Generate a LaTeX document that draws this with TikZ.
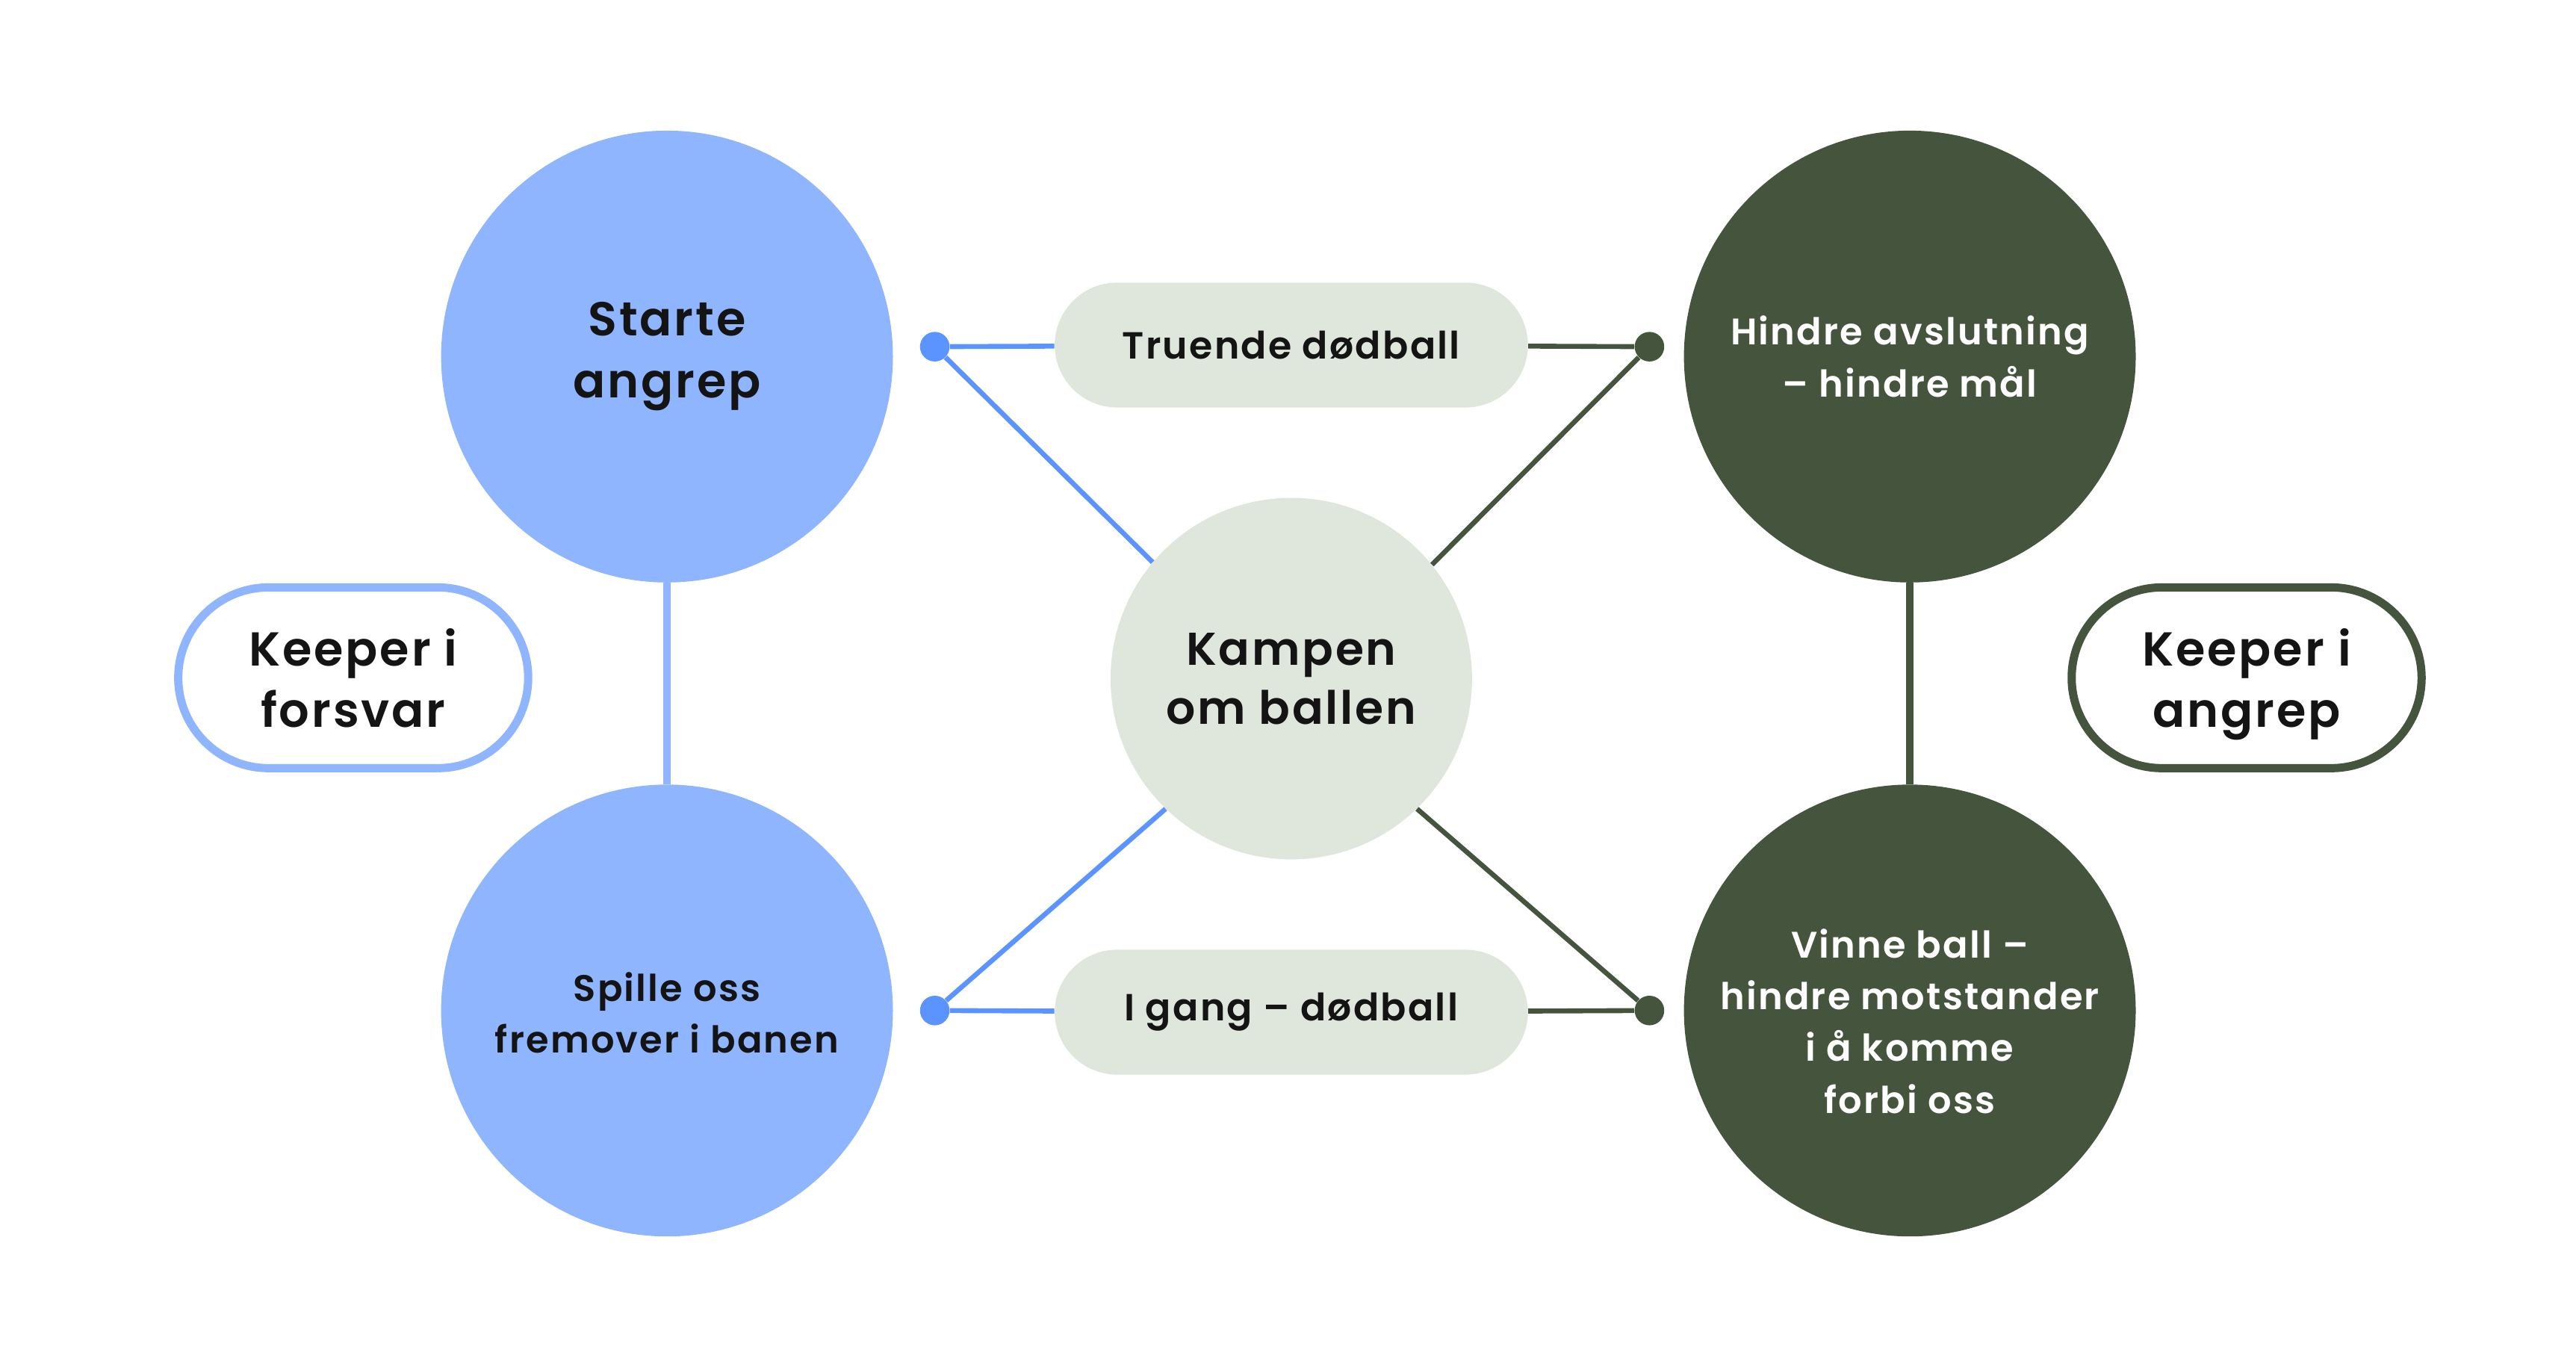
\documentclass[tikz,border=0pt]{standalone}
\usepackage{fontspec}
\setmainfont{Poppins}[UprightFont=* SemiBold, LetterSpace=4.5]
\definecolor{lblue}{HTML}{8FB5FE}
\definecolor{dblue}{HTML}{5B93FF}
\definecolor{dgreen}{HTML}{45543C}
\definecolor{pale}{HTML}{DFE6DC}
\definecolor{ink}{HTML}{141414}
\begin{document}
\begin{tikzpicture}[x=1pt,y=-1pt,
  bigcirc/.style={circle, minimum size=275pt, inner sep=0pt, align=center},
  bluecirc/.style={bigcirc, fill=lblue, text=ink},
  greencirc/.style={bigcirc, fill=dgreen, text=white},
  midpill/.style={rounded corners=38pt, fill=pale, minimum width=288pt, minimum height=76pt, inner sep=0pt, text=ink, font=\fontsize{23}{30}\selectfont},
  keeperbox/.style={rounded corners=55pt, line width=5pt, fill=white, minimum width=213pt, minimum height=110pt, inner sep=0pt, align=center, text=ink, text depth=0pt, font=\fontsize{29}{37}\selectfont},
  dotnode/.style={circle, inner sep=0pt, minimum size=18pt},
  conn/.style={line width=3pt},
  big/.style={font=\fontsize{29}{38}\selectfont},
  small/.style={font=\fontsize{22.5}{31.5}\selectfont}
]
\useasboundingbox (0,0) rectangle (1568,830);
% main circles
\node[bluecirc, big] (sa) at (406,217) {Starte\\angrep};
\node[bluecirc, small] (sp) at (406,615) {\raisebox{-1.5pt}[\height][\depth]{\parbox{236pt}{\centering Spille oss\\fremover i banen}}};
\node[greencirc, small] (ha) at (1162.5,217) {Hindre avslutning\\– hindre mål};
\node[greencirc, small] (vb) at (1162.5,615) {\raisebox{-6.5pt}[\height][\depth]{\parbox{236pt}{\centering Vinne ball –\\hindre motstander\\i å komme\\forbi oss}}};
\node[circle, minimum size=220pt, inner sep=0pt, fill=pale, align=center, text=ink, font=\fontsize{28}{36}\selectfont] (kb) at (786,413) {Kampen\\om ballen};
% pills
\node[midpill] (td) at (786,210) {Truende dødball};
\node[midpill] (ig) at (786,616) {I gang – dødball};
\node[keeperbox, draw=lblue] (kf) at (215,412.5) {Keeper i\\forsvar};
\node[keeperbox, draw=dgreen] (ka) at (1367.5,412.5) {Keeper i\\angrep};
% dots
\node[dotnode, fill=dblue] (bd1) at (569,211) {};
\node[dotnode, fill=dblue] (bd2) at (569,615) {};
\node[dotnode, fill=dgreen] (gd1) at (1004,211) {};
\node[dotnode, fill=dgreen] (gd2) at (1004,615) {};
% connectors
\draw[lblue, line width=4.5pt] (sa) -- (sp);
\draw[dgreen, line width=4.5pt] (ha) -- (vb);
\draw[conn, dblue] (bd1) -- (td);
\draw[conn, dblue] (bd2) -- (ig);
\draw[conn, dblue] (bd1) -- (kb.140);
\draw[conn, dblue] (bd2) -- (kb.226);
\draw[conn, dgreen] (td) -- (gd1);
\draw[conn, dgreen] (ig) -- (gd2);
\draw[conn, dgreen] (gd1) -- (kb.39);
\draw[conn, dgreen] (gd2) -- (kb.314);
\end{tikzpicture}
\end{document}
